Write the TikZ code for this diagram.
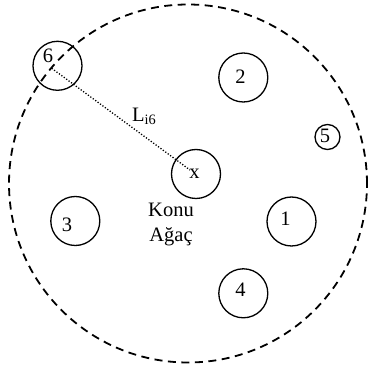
\documentclass[tikz,border=0pt]{standalone}
\usepackage{fontspec}
\setmainfont{Liberation Serif}
\usetikzlibrary{calc}

\tikzset{
    tree/.style={circle, draw, line width=1.3pt, minimum size=49pt, inner sep=0pt},
    small tree/.style={tree, minimum size=25pt},
    tag/.style={font=\fontsize{20.5}{25}\selectfont},
}

\begin{document}
\begin{tikzpicture}[x=1pt, y=1pt, font=\fontsize{20.5}{25}\selectfont]
    \useasboundingbox (0,0) rectangle (368,367);

    % Search area round the target tree
    \draw[line width=1.8pt, dash pattern=on 8pt off 5.5pt] (188,183.5) circle (179);

    % Target tree and its neighbours
    \node[tree, label={[tag, xshift=-1.5pt, yshift=0.5pt]center:x}] (cx) at (196,193) {};
    \node[tree, label={[tag, xshift=-6pt, yshift=3pt]center:1}] (c1) at (291.5,145.5) {};
    \node[tree, label={[tag, xshift=-2.8pt, yshift=1pt]center:2}] (c2) at (243.3,289.5) {};
    \node[tree, label={[tag, xshift=-8.3pt, yshift=-3.5pt]center:3}] (c3) at (75.3,146) {};
    \node[tree, label={[tag, xshift=-2.8pt, yshift=3.3pt]center:4}] (c4) at (243.3,73.7) {};
    \node[small tree, label={[tag, xshift=-2.5pt, yshift=1pt]center:5}] (c5) at (327.5,230) {};
    \node[tree, label={[tag, xshift=-9.5pt, yshift=9.8pt]center:6}] (c6) at (57.5,301.2) {};

    % Distance to neighbour 6
    \draw[line width=1.3pt, dash pattern=on 1.2pt off 1.8pt]
        ($(c6.center)+(-5.8,-2.5)$) -- ($(cx.center)+(-6,4)$);
    \node[anchor=base west, inner sep=0pt] (dist) at (132,245.3) {L\textsubscript{i6}};

    % Caption of the target tree
    \node[align=center, inner sep=0pt] (name) at (171,142.3) {Konu\\Ağaç};
\end{tikzpicture}
\end{document}
